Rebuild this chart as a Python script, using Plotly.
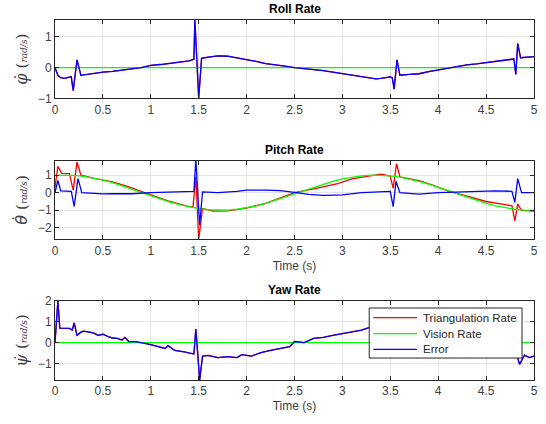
import plotly.graph_objects as go

# ---------------- Roll rate ----------------
roll_err_t = [0, 0.03, 0.06, 0.1, 0.14, 0.17, 0.19, 0.23, 0.27, 0.33, 0.4, 0.5, 0.6, 0.7,
              0.8, 0.9, 1.0, 1.1, 1.2, 1.3, 1.4, 1.45, 1.46, 1.50, 1.53, 1.6, 1.7, 1.8,
              1.9, 2.0, 2.1, 2.2, 2.3, 2.4, 2.5, 2.6, 2.7, 2.8, 2.9, 3.0, 3.1, 3.2, 3.3,
              3.35, 3.4, 3.5, 3.52, 3.54, 3.57, 3.6, 3.7, 3.8, 3.9, 4.0, 4.1, 4.2, 4.3,
              4.4, 4.5, 4.6, 4.7, 4.79, 4.81, 4.83, 4.86, 4.9, 5.0]
roll_err_v = [0, -0.25, -0.33, -0.35, -0.32, -0.3, -0.75, 0.25, -0.25, -0.22, -0.2, -0.15,
              -0.12, -0.07, -0.04, 0.0, 0.07, 0.1, 0.14, 0.17, 0.22, 0.27, 1.55, -1.0, 0.3,
              0.34, 0.38, 0.37, 0.32, 0.26, 0.2, 0.13, 0.1, 0.05, 0.0, -0.03, -0.07, -0.1,
              -0.15, -0.2, -0.25, -0.3, -0.35, -0.37, -0.35, -0.3, -0.33, -0.7, 0.25, -0.25,
              -0.22, -0.2, -0.13, -0.07, -0.02, 0.05, 0.09, 0.12, 0.16, 0.2, 0.25, 0.28,
              -0.22, 0.78, 0.32, 0.33, 0.36]
roll_vis_t = [0, 5]
roll_vis_v = [0, 0]
roll_tri_t = roll_err_t
roll_tri_v = roll_err_v

# ---------------- Pitch rate ----------------
pitch_vis_t = [round(0.1 * i, 1) for i in range(51)]
pitch_vis_v = [0.98, 1.0, 0.98, 0.93, 0.84, 0.72, 0.57, 0.4, 0.22, 0.02, -0.17, -0.36,
               -0.53, -0.68, -0.81, -0.91, -0.97, -1.0, -0.99, -0.94, -0.86, -0.75, -0.61,
               -0.44, -0.26, -0.07, 0.12, 0.31, 0.49, 0.65, 0.78, 0.89, 0.96, 1.0, 1.0,
               0.96, 0.89, 0.78, 0.65, 0.49, 0.31, 0.12, -0.07, -0.26, -0.44, -0.61, -0.75,
               -0.86, -0.94, -0.99, -1.0]
pitch_err_t = [0, 0.03, 0.06, 0.1, 0.17, 0.2, 0.24, 0.28, 0.4, 0.5, 0.6, 0.8, 1.0, 1.2,
               1.4, 1.45, 1.47, 1.51, 1.54, 1.7, 1.9, 2.0, 2.2, 2.35, 2.5, 2.65, 2.8, 3.0,
               3.2, 3.4, 3.5, 3.53, 3.56, 3.6, 3.7, 3.8, 4.0, 4.2, 4.4, 4.6, 4.77, 4.8,
               4.83, 4.87, 5.0]
pitch_err_v = [0, 0.7, 0.1, 0.1, 0.08, -0.78, 0.8, 0.0, -0.05, -0.07, -0.05, -0.06, 0.0,
               0.02, 0.05, 0.08, 1.9, -1.85, 0.05, 0.0, 0.08, 0.15, 0.15, 0.12, 0.02, -0.1,
               -0.15, -0.12, 0.0, 0.05, 0.07, -0.79, 0.65, 0.0, -0.05, -0.08, 0.0, 0.03,
               0.08, 0.1, 0.08, -0.55, 0.8, 0.0, 0.0]
pitch_tri_t = [0, 0.03, 0.07, 0.15, 0.19, 0.23, 0.27, 0.4, 0.6, 0.75, 0.9, 1.05, 1.2, 1.38,
               1.44, 1.47, 1.5, 1.54, 1.65, 1.8, 2.0, 2.2, 2.35, 2.5, 2.75, 2.95, 3.1, 3.3,
               3.4, 3.5, 3.53, 3.565, 3.6, 3.8, 3.95, 4.1, 4.3, 4.5, 4.7, 4.77, 4.8, 4.83,
               4.87, 5.0]
pitch_tri_v = [0.3, 1.5, 1.1, 1.08, 0.15, 1.75, 1.0, 0.83, 0.62, 0.38, 0.08, -0.22, -0.5,
               -0.76, -0.82, 0.9, -2.65, -0.9, -1.05, -1.03, -0.88, -0.6, -0.32, 0.0, 0.28,
               0.52, 0.78, 0.98, 1.05, 0.95, 0.25, 1.65, 0.9, 0.68, 0.42, 0.1, -0.22, -0.5,
               -0.68, -0.75, -1.6, -0.65, -1.0, -1.05]

# ---------------- Yaw rate ----------------
yaw_err_t = [0, 0.03, 0.05, 0.1, 0.15, 0.18, 0.2, 0.23, 0.27, 0.3, 0.35, 0.4, 0.45, 0.5,
             0.55, 0.6, 0.65, 0.7, 0.73, 0.77, 0.85, 0.9, 1.0, 1.1, 1.15, 1.18, 1.25, 1.35,
             1.45, 1.47, 1.51, 1.54, 1.6, 1.7, 1.8, 1.9, 1.95, 2.05, 2.15, 2.25, 2.35,
             2.45, 2.5, 2.6, 2.7, 2.8, 2.9, 3.0, 3.1, 3.2, 3.3, 3.5, 3.8, 4.1, 4.4, 4.6,
             4.75, 4.82, 4.85, 4.9, 4.95, 5.0]
yaw_err_v = [0, 2.0, 0.7, 0.7, 0.68, 0.6, 0.95, 0.35, 0.5, 0.55, 0.5, 0.47, 0.35, 0.4,
             0.3, 0.22, 0.2, 0.12, 0.25, 0.05, 0.03, 0.0, -0.1, -0.2, -0.28, -0.15, -0.38,
             -0.45, -0.55, 0.65, -1.8, -0.65, -0.62, -0.72, -0.68, -0.72, -0.58, -0.65,
             -0.48, -0.38, -0.3, -0.2, 0.05, 0.0, 0.2, 0.25, 0.35, 0.45, 0.52, 0.6, 0.75,
             0.8, 0.7, 0.4, 0.0, -0.25, -0.45, -0.6, -1.05, -0.6, -0.72, -0.65]
yaw_vis_t = [0, 5]
yaw_vis_v = [0, 0]
yaw_tri_t = yaw_err_t
yaw_tri_v = yaw_err_v

titles = ["Roll Rate", "Pitch Rate", "Yaw Rate"]
symbols = ["φ̇", "θ̇", "ψ̇"]
symbol_fonts = ["DejaVu Serif", "DejaVu Sans", "DejaVu Serif"]
legend_names = ["Triangulation Rate", "Vision Rate", "Error"]
y_ranges = [[-1, 1.55], [-2.65, 1.82], [-1.8, 2]]
y_ticks = [[-1, 0, 1], [-2, -1, 0, 1], [-1, 0, 1, 2]]
x_ticks = [0, 0.5, 1, 1.5, 2, 2.5, 3, 3.5, 4, 4.5, 5]
x_tick_text = ["0", "0.5", "1", "1.5", "2", "2.5", "3", "3.5", "4", "4.5", "5"]
domains = [[0.7825, 1.0], [0.3908, 0.6092], [0.0, 0.2194]]

RED, GREEN, BLUE = "rgb(255,0,0)", "rgb(0,255,0)", "rgb(0,0,255)"
COLORS = [RED, GREEN, BLUE]
AX = "#262626"
FONT = "Liberation Sans, Arial, sans-serif"

series = [
    (roll_tri_t, roll_tri_v, roll_vis_t, roll_vis_v, roll_err_t, roll_err_v),
    (pitch_tri_t, pitch_tri_v, pitch_vis_t, pitch_vis_v, pitch_err_t, pitch_err_v),
    (yaw_tri_t, yaw_tri_v, yaw_vis_t, yaw_vis_v, yaw_err_t, yaw_err_v),
]

fig = go.Figure()
for i, (tt, tv, vt, vv, et, ev) in enumerate(series):
    suffix = "" if i == 0 else str(i + 1)
    xa, ya = "x" + suffix, "y" + suffix
    for (xs, ys), name, col in zip([(tt, tv), (vt, vv), (et, ev)], legend_names, COLORS):
        fig.add_trace(go.Scatter(x=xs, y=ys, mode="lines", name=name,
                                 line=dict(color=col, width=1.3), xaxis=xa, yaxis=ya,
                                 showlegend=False))

layout = dict(
    width=546, height=424,
    margin=dict(l=55, r=8, t=20, b=44),
    paper_bgcolor="white", plot_bgcolor="white",
    font=dict(family=FONT, size=12, color="#404040"),
    showlegend=False,
    annotations=[],
    shapes=[],
)

for i in range(3):
    suffix = "" if i == 0 else str(i + 1)
    axis_common = dict(showline=True, linecolor=AX, linewidth=1, mirror="ticks",
                       ticks="inside", ticklen=4, tickcolor=AX, tickwidth=1,
                       showgrid=True, gridcolor="#e3e3e3", gridwidth=1,
                       zeroline=False, tickfont=dict(size=12, color="#404040"))
    xa = dict(axis_common, range=[0, 5], tickvals=x_ticks, ticktext=x_tick_text,
              anchor="y" + suffix)
    if i > 0:
        xa["title"] = dict(text="Time (s)", font=dict(size=12, color="#404040"),
                           standoff=4)
    ya = dict(axis_common, range=y_ranges[i], tickvals=y_ticks[i],
              domain=domains[i], anchor="x" + suffix,
              title=dict(text="<span style='font-family:" + symbol_fonts[i] + "'><i>"
                              + symbols[i] + "</i></span> "
                              "<span style='font-size:15px'>(</span>"
                              "<span style='font-size:9px'><i>rad/s</i></span>"
                              "<span style='font-size:15px'>)</span>",
                         font=dict(family="DejaVu Serif, serif", size=16,
                                   color="#404040"),
                         standoff=6))
    layout["xaxis" + suffix] = xa
    layout["yaxis" + suffix] = ya
    layout["annotations"].append(dict(
        text="<b>" + titles[i] + "</b>", x=0.5, xref="paper", xanchor="center",
        y=domains[i][1], yref="paper", yanchor="bottom", yshift=2, showarrow=False,
        font=dict(family=FONT, size=12, color="black")))

# Legend box drawn inside the yaw panel (MATLAB style: compact entries)
leg_x0, leg_x1 = 0.656, 0.975
leg_y0, leg_y1 = 0.061, 0.2
layout["shapes"].append(dict(type="rect", xref="paper", yref="paper",
                             x0=leg_x0, x1=leg_x1, y0=leg_y0, y1=leg_y1,
                             fillcolor="white", line=dict(color=AX, width=1),
                             layer="above"))
row_y = [0.173, 0.129, 0.085]
for name, col, yy in zip(legend_names, COLORS, row_y):
    layout["shapes"].append(dict(type="line", xref="paper", yref="paper",
                                 x0=0.6646, x1=0.7557, y0=yy, y1=yy,
                                 line=dict(color=col, width=1.3), layer="above"))
    layout["annotations"].append(dict(text=name, x=0.764, xref="paper", xanchor="left",
                                      y=yy, yref="paper", yanchor="middle",
                                      showarrow=False,
                                      font=dict(family=FONT, size=11.5, color="#262626")))

fig.update_layout(**layout)
fig.write_html("out.html")
